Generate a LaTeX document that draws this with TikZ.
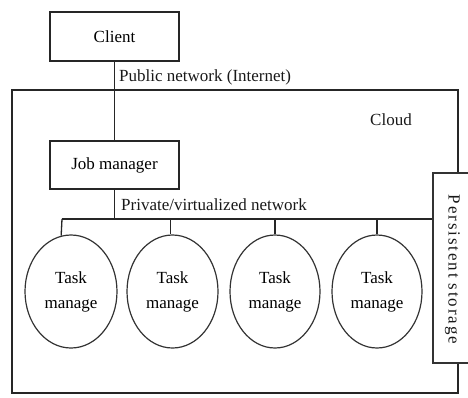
\documentclass[tikz,border=0pt]{standalone}
\usepackage{fontspec}
\setmainfont{Liberation Serif}
\usetikzlibrary{shapes.geometric}
\tikzset{
  box/.style={draw=black!85, line width=1.5pt, inner sep=0pt, minimum width=129pt},
  task/.style={draw=black!80, line width=1.2pt, ellipse, inner sep=0pt, minimum height=113pt, align=center,
    font=\fontsize{17}{25}\selectfont},
  lbl/.style={inner sep=0pt, font=\fontsize{17}{20}\selectfont, text=black!90},
  wire/.style={draw=black!85, line width=1.3pt},
}
\begin{document}
\begin{tikzpicture}[x=1pt,y=-1pt]
\useasboundingbox (0,0) rectangle (468,397);
\clip (0,0) rectangle (468,397);
% cloud
\node[draw=black!85, line width=2.3pt, minimum width=446pt, minimum height=303pt, inner sep=0pt] (cloud) at (235,241.5) {};
\node[lbl] (cloudlbl) at (391,120) {Cloud};
% client and job manager
\node[box, minimum height=49pt, font=\fontsize{17}{20}\selectfont] (client) at (114.5,36.5) {Client};
\node[box, minimum height=48pt, font=\fontsize{17}{20}\selectfont] (jm) at (114.5,165) {Job manager};
\draw[wire] (client.south) -- (jm.north);
\node[lbl, anchor=west] (pub) at (119,77) {Public network (Internet)};
% storage
\node[draw=black!80, line width=1.2pt, fill=white, minimum width=50pt, minimum height=190pt, inner sep=0pt] (storage) at (458,268) {};
\node[lbl, rotate=-90] (storlbl) at (452.5,269.5) {\addfontfeatures{LetterSpace=11}Persistent storage};
% private network
\coordinate (busL) at (62,219);
\node[lbl, anchor=west] (priv) at (121,205) {Private/virtualized network};
\draw[wire] (jm.south) -- (jm.south |- busL);
\draw[wire] (busL) -- (storage.west |- busL);
% tasks
\node[task, minimum width=92pt] (t1) at (71,291.5) {Task\\manage};
\node[task, minimum width=91pt] (t2) at (172.5,291.5) {Task\\manage};
\node[task, minimum width=90pt] (t3) at (275,291.5) {Task\\manage};
\node[task, minimum width=90pt] (t4) at (377,291.5) {Task\\manage};
\draw[wire] (busL) -- (t1.100);
\draw[wire] (t2.92 |- busL) -- (t2.92);
\draw[wire] (t3.north |- busL) -- (t3.north);
\draw[wire] (t4.north |- busL) -- (t4.north);
\end{tikzpicture}
\end{document}
